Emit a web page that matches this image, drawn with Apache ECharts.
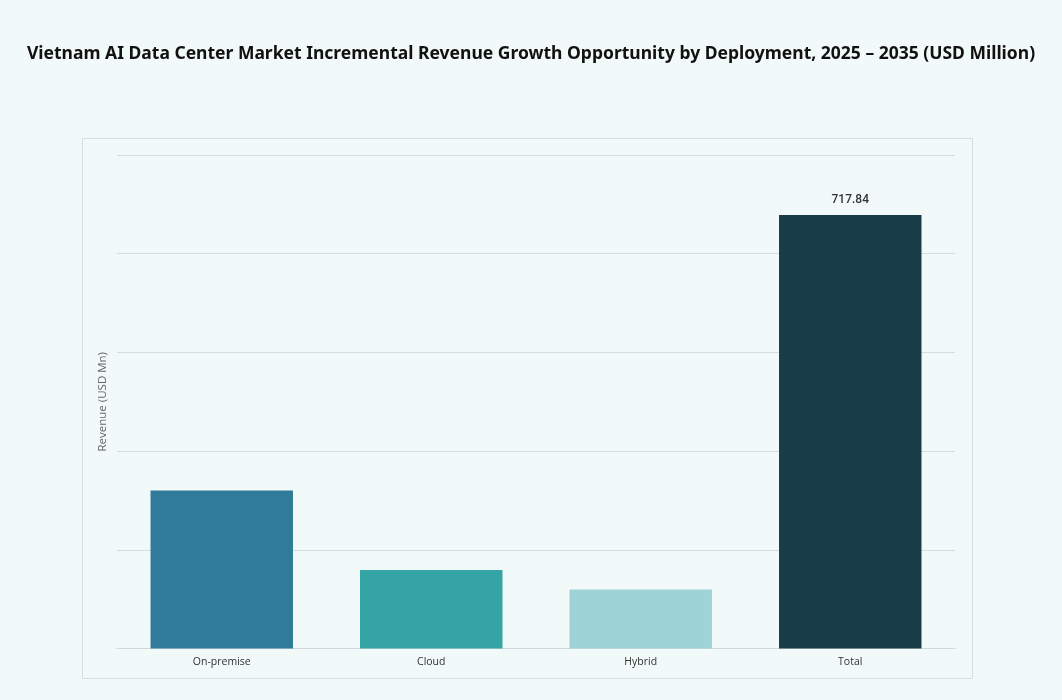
<!DOCTYPE html>
<html>
<head>
<meta charset="utf-8">
<title>Vietnam AI Data Center Market</title>
<script src="https://cdn.jsdelivr.net/npm/echarts@6/dist/echarts.min.js"></script>
<style>
    html, body {
        margin: 0;
        padding: 0;
        background-color: #f2f9f9;
    }

    /* 图表容器 */
    #main {
        width: 1062px;
        height: 700px;
    }
</style>
</head>
<body>
<div id="main"></div>
<script>
    // 数据区域
    var categories = ['On-premise', 'Cloud', 'Hybrid', 'Total'];
    var revenue = [261.6, 130.0, 97.7, 717.84];
    var barColors = ['#2f7b99', '#35a4a4', '#9ed3d8', '#183d48'];
    var axisMax = 817;
    var axisStep = 163.4;

    var chart = echarts.init(document.getElementById('main'));

    var option = {
        backgroundColor: '#f2f9f9',
        title: {
            text: 'Vietnam AI Data Center Market Incremental Revenue Growth Opportunity by Deployment, 2025 \u2013 2035 (USD Million)',
            left: 'center',
            top: 40,
            textStyle: {
                fontFamily: 'Noto Sans',
                fontSize: 17.5,
                fontWeight: 'bold',
                color: '#111'
            }
        },
        // 外框
        graphic: [{
            type: 'rect',
            left: 82,
            top: 138,
            shape: { width: 890, height: 540 },
            style: { fill: 'rgba(0,0,0,0)', stroke: '#d5dfe1', lineWidth: 1 },
            silent: true
        }],
        grid: {
            left: 117,
            right: 107,
            top: 155,
            bottom: 51.5
        },
        xAxis: {
            type: 'category',
            data: categories,
            axisTick: { show: false },
            axisLine: { lineStyle: { color: '#d0d8da' } },
            axisLabel: {
                fontFamily: 'Open Sans',
                fontSize: 10.5,
                color: '#333',
                margin: 8
            }
        },
        yAxis: {
            type: 'value',
            min: 0,
            max: axisMax,
            interval: axisStep,
            name: 'Revenue (USD Mn)',
            nameLocation: 'middle',
            nameGap: 8,
            nameTextStyle: {
                fontFamily: 'Open Sans',
                fontSize: 11.5,
                color: '#666'
            },
            axisLabel: { show: false },
            axisLine: { show: false },
            axisTick: { show: false },
            splitLine: { lineStyle: { color: '#d3dcde' } }
        },
        series: [{
            type: 'bar',
            data: revenue.map(function (v, i) {
                return {
                    value: v,
                    itemStyle: { color: barColors[i] },
                    label: { show: i === 3 }
                };
            }),
            barWidth: '68%',
            label: {
                position: 'top',
                distance: 9,
                fontFamily: 'Roboto',
                fontSize: 12,
                fontWeight: 500,
                color: '#333',
                formatter: function (p) { return p.value.toFixed(2); }
            }
        }]
    };

    chart.setOption(option);
</script>
</body>
</html>
